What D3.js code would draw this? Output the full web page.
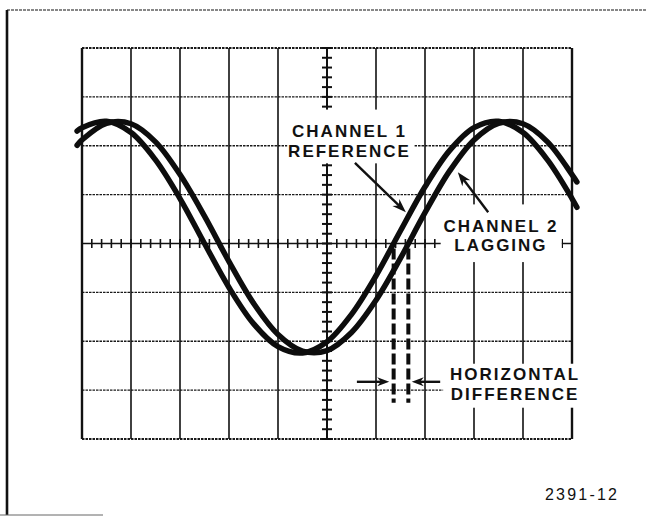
<!DOCTYPE html>
<html>
<head>
<meta charset="utf-8">
<script src="https://cdn.jsdelivr.net/npm/d3@7"></script>
<style>
html, body { margin: 0; padding: 0; background: #fff; }
svg { display: block; }
text { font-family: "Liberation Sans", Arial, sans-serif; fill: #111; }
</style>
</head>
<body>
<svg id="scope"></svg>
<script>
// screen positions in divisions (0..10 across, -4..4 up)
const divX = [-0.1, 0, 0.5, 1, 1.5, 2, 2.5, 3, 3.5, 4, 4.5, 5, 5.5, 6, 6.5, 7, 7.5, 8, 8.5, 9, 9.5, 10, 10.1]
// channel 1 (reference) trace
const channel1 = [2.30, 2.37, 2.50, 2.27, 1.71, 0.92, 0.00, -0.90, -1.64, -2.11, -2.24, -2.01, -1.45, -0.66, 0.26, 1.16, 1.90, 2.37, 2.50, 2.27, 1.71, 0.92, 0.74]
// channel 2 (lagging) trace
const channel2 = [2.01, 2.12, 2.46, 2.45, 2.08, 1.41, 0.56, -0.37, -1.22, -1.86, -2.20, -2.19, -1.82, -1.16, -0.30, 0.63, 1.48, 2.12, 2.46, 2.45, 2.08, 1.41, 1.26]
// where each trace crosses the centre line (rising)
const crossings = [6.36, 6.66]

const labelRef = ["CHANNEL 1", "REFERENCE"]
const labelLag = ["CHANNEL 2", "LAGGING"]
const labelDiff = ["HORIZONTAL", "DIFFERENCE"]
const figNumber = "2391-12"

const svgWidth = 646
const svgHeight = 517

const svg = d3.select("#scope")
	.attr("width", svgWidth)
	.attr("height", svgHeight)

const x = d3.scaleLinear().domain([0, 10]).range([82, 572])
const y = d3.scaleLinear().domain([-4, 4]).range([439, 48])

// outer frame of the figure
const frame = svg.append("g").attr("stroke", "#111").attr("fill", "none")
frame.append("line").attr("x1", 7).attr("y1", 10).attr("x2", 7).attr("y2", 515).attr("stroke-width", 2.6)
frame.append("line").attr("x1", 7).attr("y1", 10).attr("x2", 646).attr("y2", 10)
	.attr("stroke-width", 1.2).attr("stroke-dasharray", "3,1")
frame.append("line").attr("x1", 0).attr("y1", 515).attr("x2", 103).attr("y2", 515)
	.attr("stroke-width", 1).attr("stroke", "#666")

// graticule
const grid = svg.append("g").attr("fill", "none")
grid.selectAll(".hline")
	.data(y.ticks(8).filter(d => d !== 0))
	.enter().append("line")
	.attr("class", "hline")
	.attr("x1", x(0)).attr("x2", x(10))
	.attr("y1", d => y(d)).attr("y2", d => y(d))
	.attr("stroke", "#1a1a1a")
	.attr("stroke-width", d => (d === -4 || d === 4) ? 1.8 : 1.4)
	.attr("stroke-dasharray", "2.5,1")
grid.selectAll(".vline")
	.data(x.ticks(10))
	.enter().append("line")
	.attr("class", "vline")
	.attr("x1", d => x(d)).attr("x2", d => x(d))
	.attr("y1", y(4)).attr("y2", y(-4))
	.attr("stroke", "#111")
	.attr("stroke-width", d => (d === 0 || d === 10) ? 2.4 : 1.6)

// centre axes with minor ticks
const axes = svg.append("g").attr("stroke", "#111").attr("stroke-width", 1.6)
axes.append("line").attr("x1", x(0)).attr("x2", x(10)).attr("y1", y(0)).attr("y2", y(0))
axes.append("line").attr("x1", x(5)).attr("x2", x(5)).attr("y1", y(4)).attr("y2", y(-4)).attr("stroke-width", 2)
axes.selectAll(".xt")
	.data(x.ticks(50))
	.enter().append("line")
	.attr("x1", d => x(d)).attr("x2", d => x(d))
	.attr("y1", y(0) - 4.5).attr("y2", y(0) + 4.5)
axes.selectAll(".yt")
	.data(y.ticks(40))
	.enter().append("line")
	.attr("y1", d => y(d)).attr("y2", d => y(d))
	.attr("x1", x(5) - 5).attr("x2", x(5) + 5)
	.attr("stroke-width", 2)

// white patches behind the labels
const patches = [
	{x0: 4.19, x1: 6.78, y0: 2.74, y1: 1.64},
	{x0: 7.32, x1: 9.79, y0: 0.80, y1: -0.38},
	{x0: 7.37, x1: 10.29, y0: -2.46, y1: -3.36}
]
svg.selectAll(".patch")
	.data(patches)
	.enter().append("rect")
	.attr("x", d => x(d.x0)).attr("y", d => y(d.y0))
	.attr("width", d => x(d.x1) - x(d.x0))
	.attr("height", d => y(d.y1) - y(d.y0))
	.attr("fill", "#fff")

// traces
const line = d3.line()
	.x((d, i) => x(divX[i]))
	.y(d => y(d))
	.curve(d3.curveCatmullRom.alpha(0.5))
svg.selectAll(".trace")
	.data([channel1, channel2])
	.enter().append("path")
	.attr("class", "trace")
	.attr("d", d => line(d))
	.attr("fill", "none")
	.attr("stroke", "#0d0d0d")
	.attr("stroke-width", 5.5)
	.attr("stroke-linecap", "round")

// dashed drop lines from the crossings
svg.selectAll(".drop")
	.data(crossings)
	.enter().append("line")
	.attr("x1", d => x(d)).attr("x2", d => x(d))
	.attr("y1", y(-0.1)).attr("y2", y(-3.26))
	.attr("stroke", "#0d0d0d")
	.attr("stroke-width", 4)
	.attr("stroke-dasharray", "11,4")

// arrows
function arrow(g, p0, p1, len, half) {
	const ax = x(p0[0]), ay = y(p0[1]), bx = x(p1[0]), by = y(p1[1])
	const dx = bx - ax, dy = by - ay, L = Math.hypot(dx, dy)
	const ux = dx / L, uy = dy / L
	g.append("line")
		.attr("x1", ax).attr("y1", ay)
		.attr("x2", bx - ux * len * 0.6).attr("y2", by - uy * len * 0.6)
		.attr("stroke", "#111").attr("stroke-width", 2.4)
	const bxb = bx - ux * len, byb = by - uy * len
	const nx = bx - ux * len * 0.7, ny = by - uy * len * 0.7
	g.append("path")
		.attr("d", "M" + bx + "," + by +
			"L" + (bxb - uy * half) + "," + (byb + ux * half) +
			"L" + nx + "," + ny +
			"L" + (bxb + uy * half) + "," + (byb - ux * half) + "Z")
		.attr("fill", "#111")
}
const arrows = svg.append("g")
arrow(arrows, [5.57, 1.65], [6.61, 0.64], 14, 5)
arrow(arrows, [8.29, 0.64], [7.67, 1.46], 14, 5)
arrow(arrows, [5.61, -2.83], [6.27, -2.83], 12, 4.5)
arrow(arrows, [7.31, -2.83], [6.73, -2.83], 12, 4.5)

// labels
function label(lines, cx, baselines) {
	svg.selectAll(null)
		.data(lines)
		.enter().append("text")
		.attr("x", x(cx))
		.attr("y", (d, i) => y(baselines[i]))
		.attr("text-anchor", "middle")
		.style("font-size", "17px")
		.style("font-weight", "bold")
		.style("letter-spacing", "2px")
		.text(d => d)
}
label(labelRef, 5.46, [2.18, 1.77])
label(labelLag, 8.55, [0.235, -0.155])
label(labelDiff, 8.84, [-2.79, -3.2])

svg.append("text")
	.attr("x", 545)
	.attr("y", 500)
	.style("font-size", "16px")
	.style("font-weight", "normal")
	.style("letter-spacing", "2.2px")
	.text(figNumber)
</script>
</body>
</html>
